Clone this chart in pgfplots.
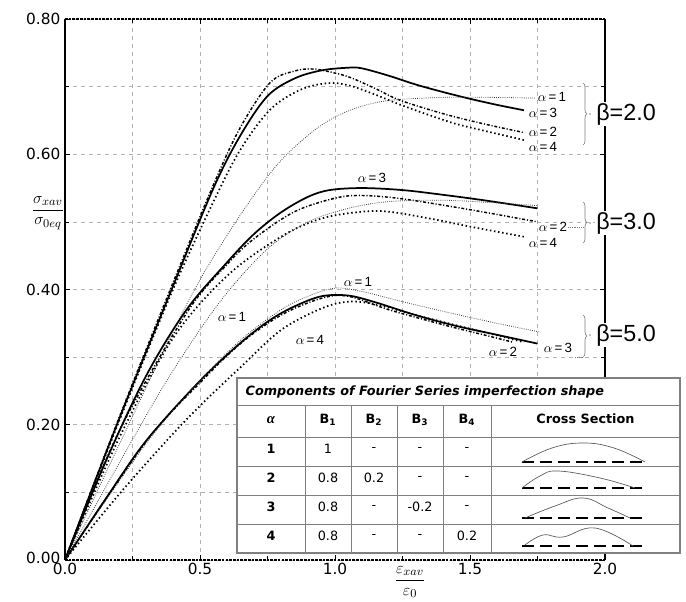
\documentclass[border=0pt]{standalone}
\usepackage{fontspec}
\setmainfont{Liberation Sans}
\newfontfamily\dejavu{DejaVu Sans}
\newfontfamily\lserif{Liberation Serif}
\usepackage{pgfplots}
\pgfplotsset{compat=1.18}
\usetikzlibrary{decorations.pathreplacing}

\pgfplotsset{
 athree/.style={black, line width=1.3pt, smooth, tension=0.55},
 aone/.style={black!75, line width=0.6pt, densely dotted, smooth, tension=0.55},
 atwo/.style={black, line width=1.1pt, dash pattern=on 2.2pt off 1.4pt on 0.8pt off 1.4pt, smooth, tension=0.55},
 afour/.style={black, line width=1.3pt, dash pattern=on 1.1pt off 2.0pt, smooth, tension=0.55},
}
\newcommand{\al}[1]{{\fontsize{10}{12}\selectfont$\alpha$\,=\,#1}}

\begin{document}
\begin{tikzpicture}
\begin{scope}[shift={(-48.75pt,0pt)}, x=0.75pt, y=0.75pt]
\path[use as bounding box] (0,-36) rectangle (686,560);
\end{scope}
\begin{axis}[
 at={(0,0)}, anchor=south west,
 scale only axis, width=405pt, height=405.75pt,
 xmin=0, xmax=2, ymin=0, ymax=0.8,
 xtick={0,0.5,1,1.5,2}, minor xtick={0.25,0.75,1.25,1.75},
 ytick={0,0.2,0.4,0.6,0.8}, minor ytick={0.1,0.3,0.5,0.7},
 xticklabels={0.0,0.5,1.0,1.5,2.0},
 yticklabels={\raisebox{3pt}{0.00},0.20,0.40,0.60,0.80},
 grid=both,
 major grid style={gray!60, dashed, line width=0.4pt},
 minor grid style={gray!60, dashed, line width=0.4pt},
 tick style={black, line width=0.5pt},
 major tick length=4pt, minor tick length=3pt,
 ticklabel style={font=\dejavu\fontsize{11.5}{13}\selectfont},
 xticklabel style={yshift=1pt},
 clip=false,
 separate axis lines,
 x axis line style={line width=1pt, dash pattern=on 2pt off 0.8pt},
 y axis line style={line width=1.4pt},
]
% beta = 2.0
\addplot[athree] coordinates {(0,0) (0.2,0.208) (0.4,0.405) (0.55,0.55) (0.65,0.628) (0.75,0.686) (0.85,0.712) (0.95,0.724) (1.05,0.728) (1.1,0.727) (1.2,0.716) (1.3,0.703) (1.4,0.692) (1.5,0.682) (1.6,0.673) (1.7,0.665)};
\addplot[atwo] coordinates {(0,0) (0.2,0.21) (0.4,0.41) (0.55,0.555) (0.65,0.64) (0.76,0.706) (0.85,0.723) (0.92,0.726) (1.0,0.72) (1.06,0.713) (1.15,0.697) (1.24,0.68) (1.4,0.66) (1.55,0.645) (1.7,0.632)};
\addplot[afour] coordinates {(0,0) (0.2,0.205) (0.4,0.4) (0.55,0.53) (0.65,0.607) (0.76,0.666) (0.87,0.695) (0.97,0.705) (1.05,0.702) (1.15,0.688) (1.25,0.672) (1.43,0.647) (1.55,0.635) (1.7,0.621)};
\addplot[aone] coordinates {(0,0) (0.2,0.17) (0.44,0.37) (0.6,0.48) (0.77,0.577) (0.9,0.628) (1.0,0.655) (1.1,0.671) (1.21,0.68) (1.4,0.684) (1.6,0.684) (1.74,0.683)};
% beta = 3.0
\addplot[athree] coordinates {(0,0) (0.15,0.145) (0.3,0.272) (0.45,0.37) (0.6,0.44) (0.7,0.482) (0.8,0.514) (0.9,0.537) (0.98,0.547) (1.1,0.55) (1.25,0.547) (1.4,0.54) (1.55,0.532) (1.75,0.52)};
\addplot[atwo] coordinates {(0,0) (0.2,0.19) (0.45,0.365) (0.6,0.437) (0.7,0.475) (0.85,0.515) (1.0,0.535) (1.1,0.539) (1.25,0.534) (1.5,0.518) (1.75,0.5)};
\addplot[afour] coordinates {(0,0) (0.2,0.18) (0.4,0.328) (0.6,0.42) (0.8,0.478) (0.95,0.505) (1.1,0.515) (1.2,0.515) (1.35,0.505) (1.5,0.493) (1.7,0.478)};
\addplot[aone] coordinates {(0,0) (0.25,0.178) (0.4,0.28) (0.58,0.385) (0.75,0.46) (0.9,0.5) (1.05,0.52) (1.2,0.53) (1.4,0.532) (1.6,0.528) (1.75,0.524)};
% beta = 5.0
\addplot[athree] coordinates {(0,0) (0.15,0.09) (0.3,0.176) (0.5,0.265) (0.65,0.321) (0.76,0.355) (0.85,0.375) (0.95,0.39) (1.05,0.391) (1.15,0.381) (1.3,0.362) (1.45,0.346) (1.6,0.333) (1.75,0.32)};
\addplot[aone] coordinates {(0,0) (0.3,0.172) (0.5,0.265) (0.65,0.325) (0.8,0.37) (0.9,0.39) (1.0,0.402) (1.1,0.397) (1.25,0.382) (1.43,0.365) (1.6,0.35) (1.76,0.337)};
\addplot[atwo] coordinates {(0,0) (0.3,0.175) (0.5,0.262) (0.65,0.32) (0.8,0.362) (0.95,0.387) (1.05,0.39) (1.2,0.37) (1.4,0.348) (1.55,0.333) (1.66,0.322)};
\addplot[afour] coordinates {(0,0) (0.2,0.097) (0.38,0.178) (0.5,0.228) (0.65,0.285) (0.8,0.34) (0.95,0.372) (1.05,0.382) (1.15,0.378) (1.3,0.362) (1.45,0.347) (1.6,0.332) (1.7,0.322)};
\end{axis}

\begin{scope}[shift={(-48.75pt,0pt)}, x=0.75pt, y=0.75pt]
% axis titles
\node at (48,347) {\fontsize{13}{15}\selectfont$\displaystyle\frac{\sigma_{xav}}{\sigma_{0eq}}$};
\node at (410,-22) {\fontsize{13}{15}\selectfont$\displaystyle\frac{\varepsilon_{xav}}{\varepsilon_0}$};
% alpha labels
\node at (552,463) {\al{1}};
\node at (543,447) {\al{3}};
\node at (543,428) {\al{2}};
\node at (543,413) {\al{4}};
\node at (372,382) {\al{3}};
\node at (553,333) {\al{2}};
\node at (543,317) {\al{4}};
\node[fill=white, inner sep=1pt] at (232,243) {\al{1}};
\node at (358,278) {\al{1}};
\node at (310,220) {\al{4}};
\node at (503,208) {\al{2}};
\node at (558,212) {\al{3}};
% braces and beta labels
\foreach \yt/\yb/\yc/\lab in {477/415/446/2.0, 358/317/337/3.0, 245/203/225/5.0}{
  \draw[gray, line width=0.5pt, decorate, decoration={brace, amplitude=3pt}] (583,\yt) -- (583,\yb);
  \fill[gray] (590,\yc) circle (0.8);
  \node[fill=white, inner sep=1pt] at (626,\yc) {\fontsize{17.5}{20}\selectfont β=\lab};
}
\draw[gray, densely dotted] (568,333) -- (583,333);
\draw[gray, densely dotted] (575,203) -- (583,203);
% table
\fill[white] (237,7) rectangle (680,182);
\draw[gray, line width=0.8pt] (237,7) rectangle (680,182);
\foreach \yy in {155,123,94,65,36}{\draw[gray, line width=0.6pt] (237,\yy) -- (680,\yy);}
\foreach \xx in {305,351,397,443,491}{\draw[gray, line width=0.6pt] (\xx,7) -- (\xx,155);}
\node[anchor=west] at (241,168.5) {\dejavu\bfseries\itshape\fontsize{9.6}{11}\selectfont Components of Fourier Series imperfection shape};
\begin{scope}[every node/.style={font=\dejavu\fontsize{9.6}{11}\selectfont}]
\node at (271,140) {\lserif\bfseries\itshape\fontsize{11}{12}\selectfont α};
\node at (328,140) {\bfseries B\textsubscript{1}};
\node at (374,140) {\bfseries B\textsubscript{2}};
\node at (420,140) {\bfseries B\textsubscript{3}};
\node at (467,140) {\bfseries B\textsubscript{4}};
\node at (585.5,141) {\bfseries Cross Section};
\node at (271,111) {\bfseries 1}; \node at (328,111) {1}; \node at (374,111) {-}; \node at (420,111) {-}; \node at (467,111) {-};
\node at (271,82) {\bfseries 2}; \node at (328,82) {0.8}; \node at (374,82) {0.2}; \node at (420,82) {-}; \node at (467,82) {-};
\node at (271,53) {\bfseries 3}; \node at (328,53) {0.8}; \node at (374,53) {-}; \node at (420,53) {-0.2}; \node at (467,53) {-};
\node at (271,24) {\bfseries 4}; \node at (328,24) {0.8}; \node at (374,24) {-}; \node at (420,24) {-}; \node at (467,24) {0.2};
\end{scope}
% cross sections
\foreach \yb in {98,72,42,14}{\draw[black, line width=1.5pt, dash pattern=on 9pt off 4.5pt] (522,\yb) -- (646,\yb);}
\draw[gray!70!black, line width=0.5pt] plot[smooth, tension=0.7] coordinates {(522,98) (552,112) (583,117) (614,112) (645,98)};
\draw[gray!70!black, line width=0.5pt] plot[smooth, tension=0.7] coordinates {(522,72) (540,84) (558,89) (600,82) (635,72)};
\draw[gray!70!black, line width=0.5pt] plot[smooth, tension=0.7] coordinates {(525,42) (555,54) (583,62) (608,52) (630,42)};
\draw[gray!70!black, line width=0.5pt] plot[smooth, tension=0.7] coordinates {(525,15) (543,25) (563,23) (595,32) (633,14)};
\end{scope}
\end{tikzpicture}
\end{document}
